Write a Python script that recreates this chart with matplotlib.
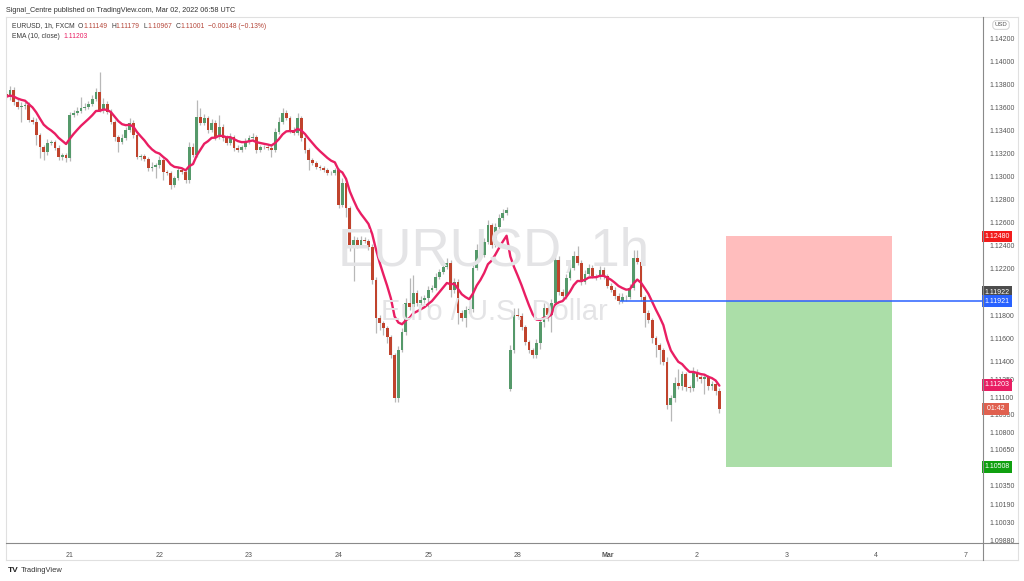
import numpy as np
import pandas as pd
import matplotlib
matplotlib.use("Agg")
import matplotlib.pyplot as plt
from matplotlib.patches import Rectangle
from matplotlib.lines import Line2D
from matplotlib.ticker import FixedLocator, NullLocator, NullFormatter, FixedFormatter
import matplotlib.transforms as mtransforms

plt.rcParams['font.family'] = ['Liberation Sans', 'DejaVu Sans']

# ---------------- data (EURUSD 1h, FXCM) ----------------
first_open = 1.13720
gap_bar = 135          # Sunday re-open bar after the weekend gap
gap_open = 1.11170

closes = [
    1.13694, 1.13755, 1.13650, 1.13606, 1.13615, 1.13624, 1.13493, 1.13475, 1.13362, 1.13257,
    1.13214, 1.13292, 1.13301, 1.13249, 1.13170, 1.13187, 1.13161, 1.13537, 1.13554, 1.13571,
    1.13598, 1.13606, 1.13633, 1.13676, 1.13737, 1.13580, 1.13633, 1.13563, 1.13475, 1.13344,
    1.13301, 1.13336, 1.13406, 1.13467, 1.13362, 1.13170, 1.13179, 1.13152, 1.13074, 1.13083,
    1.13100, 1.13144, 1.13039, 1.13030, 1.12925, 1.12987, 1.13056, 1.13039, 1.12969, 1.13257,
    1.13187, 1.13519, 1.13467, 1.13510, 1.13406, 1.13467, 1.13344, 1.13432, 1.13336, 1.13292,
    1.13344, 1.13249, 1.13231, 1.13257, 1.13301, 1.13336, 1.13344, 1.13231, 1.13257, 1.13255,
    1.13249, 1.13231, 1.13388, 1.13475, 1.13554, 1.13510, 1.13406, 1.13379, 1.13510, 1.13336,
    1.13231, 1.13144, 1.13117, 1.13083, 1.13074, 1.13056, 1.13030, 1.13028, 1.13056, 1.12753,
    1.12943, 1.12727, 1.12382, 1.12451, 1.12408, 1.12451, 1.12442, 1.12391, 1.12106, 1.11779,
    1.11735, 1.11692, 1.11615, 1.11460, 1.11089, 1.11503, 1.11658, 1.11908, 1.11873, 1.11994,
    1.11908, 1.11934, 1.11951, 1.12020, 1.12037, 1.12132, 1.12175, 1.12218, 1.12253, 1.12020,
    1.12089, 1.11822, 1.11779, 1.11848, 1.11856, 1.12210, 1.12365, 1.12322, 1.12434, 1.12580,
    1.12408, 1.12563, 1.12641, 1.12684, 1.12709, 1.11503, 1.11804, 1.11796, 1.11701, 1.11572,
    1.11503, 1.11460, 1.11563, 1.11744, 1.11865, 1.11804, 1.11908, 1.12279, 1.12003, 1.11968,
    1.12123, 1.12210, 1.12313, 1.12253, 1.12089, 1.12158, 1.12210, 1.12140, 1.12132, 1.12192,
    1.12140, 1.12054, 1.12020, 1.11968, 1.11925, 1.11959, 1.11957, 1.12037, 1.12296, 1.12261,
    1.11959, 1.11822, 1.11761, 1.11606, 1.11546, 1.11503, 1.11401, 1.11028, 1.11088, 1.11218,
    1.11192, 1.11295, 1.11184, 1.11175, 1.11313, 1.11269, 1.11252, 1.11269, 1.11192, 1.11210,
    1.11149, 1.11001,
]

# wick lengths beyond the body, in pips
upper_wick_pips = [
    2, 3, 2, 2, 3, 2, 2, 2, 3, 2,
    2, 3, 2, 2, 2, 2, 2, 2, 2, 3,
    9, 3, 2, 3, 3, 17, 5, 2, 2, 2,
    2, 3, 2, 4, 2, 2, 2, 2, 2, 4,
    2, 3, 2, 2, 2, 2, 3, 2, 2, 4,
    3, 15, 8, 3, 2, 3, 2, 10, 2, 2,
    3, 2, 2, 2, 3, 2, 3, 2, 2, 2,
    2, 2, 3, 4, 4, 2, 2, 2, 4, 2,
    2, 2, 2, 2, 2, 2, 2, 2, 2, 2,
    4, 2, 2, 3, 2, 3, 2, 2, 2, 2,
    2, 2, 2, 2, 2, 3, 3, 4, 21, 15,
    2, 3, 2, 3, 2, 3, 2, 3, 4, 2,
    3, 2, 2, 3, 2, 4, 5, 2, 3, 4,
    2, 3, 3, 3, 3, 4, 6, 6, 2, 2,
    2, 2, 3, 3, 4, 2, 3, 10, 3, 2,
    3, 3, 4, 8, 2, 3, 3, 2, 2, 3,
    2, 2, 2, 2, 2, 3, 2, 3, 7, 7,
    2, 2, 2, 2, 2, 2, 2, 4, 3, 5,
    12, 3, 2, 2, 4, 3, 2, 3, 2, 3,
    2, 3,
]
lower_wick_pips = [
    2, 3, 3, 2, 13, 3, 2, 2, 9, 10,
    7, 3, 2, 2, 3, 3, 4, 3, 2, 2,
    2, 2, 2, 2, 2, 2, 3, 2, 2, 4,
    9, 2, 2, 2, 3, 2, 3, 2, 3, 3,
    10, 3, 7, 2, 3, 2, 2, 2, 3, 3,
    2, 2, 2, 2, 3, 2, 3, 2, 3, 2,
    2, 3, 2, 2, 2, 2, 2, 3, 2, 2,
    2, 6, 2, 2, 2, 2, 3, 2, 2, 3,
    3, 9, 2, 2, 2, 2, 2, 2, 2, 3,
    2, 8, 3, 29, 3, 2, 2, 3, 4, 13,
    6, 6, 5, 3, 3, 3, 2, 3, 3, 3,
    3, 2, 3, 8, 2, 2, 2, 2, 2, 6,
    3, 10, 3, 8, 3, 3, 2, 3, 2, 2,
    3, 2, 2, 2, 2, 2, 3, 2, 3, 3,
    3, 3, 3, 5, 4, 5, 15, 2, 3, 4,
    3, 2, 2, 2, 3, 2, 2, 2, 3, 2,
    3, 2, 2, 3, 3, 2, 3, 2, 2, 2,
    4, 12, 3, 4, 10, 12, 3, 3, 13, 3,
    2, 3, 3, 3, 2, 3, 3, 13, 3, 3,
    3, 3.4,
]

day_tick_bars = [17, 41, 65, 89, 113, 137, 161, 185, 209, 233, 257]
day_labels = ['21', '22', '23', '24', '25', '28', 'Mar', '2', '3', '4', '7']

price_ticks = [1.142, 1.140, 1.138, 1.136, 1.134, 1.132, 1.130, 1.128, 1.126, 1.124,
               1.122, 1.118, 1.116, 1.114, 1.1125, 1.111, 1.1095, 1.108, 1.1065,
               1.1035, 1.1019, 1.1003, 1.0988]
price_tick_labels = ['1.14200', '1.14000', '1.13800', '1.13600', '1.13400', '1.13200',
                     '1.13000', '1.12800', '1.12600', '1.12400', '1.12200', '1.11800',
                     '1.11600', '1.11400', '1.11250', '1.11100', '1.10950', '1.10800',
                     '1.10650', '1.10350', '1.10190', '1.10030', '1.09880']

# short position tool
stop_price = 1.12480
entry_price = 1.11922
line_price = 1.11921
target_price = 1.10508
box_start_bar = 192.9
box_end_bar = 237.2
line_start_bar = 164.4
ema_last = 1.11203
countdown = '01:42'

# ---------------- derived OHLC ----------------
n = len(closes)
closes_a = np.array(closes)
opens = np.array([first_open] + closes[:-1])
opens[gap_bar] = gap_open
hi_body = np.maximum(opens, closes_a)
lo_body = np.minimum(opens, closes_a)
highs = hi_body + np.array(upper_wick_pips) / 10000.0
lows = lo_body - np.array(lower_wick_pips) / 10000.0
ema = pd.Series(closes).ewm(span=10, adjust=False).mean().values
bars = np.arange(n)

UP = '#55996a'
DOWN = '#c0432d'
WICK = '#b8b8b8'

W, H = 1024, 581
fig = plt.figure(figsize=(W / 100, H / 100), dpi=100)
fig.patch.set_facecolor('white')
ax = fig.add_axes([6 / W, 1 - 543 / H, 977 / W, 526 / H])
ax.patch.set_alpha(0)

ax.set_yscale('log')
ax.set_ylim(1.098608, 1.14393)
ax.set_xlim(-0.1, -0.1 + 977 / 3.733)

# watermark
fig.text(494 / W, 1 - 252 / H, 'EURUSD, 1h', fontsize=38, color='#e4e4e6',
         ha='center', va='center', zorder=0)
fig.text(494 / W, 1 - 312 / H, 'Euro / U.S. Dollar', fontsize=21, color='#e4e4e6',
         ha='center', va='center', zorder=0)

# position tool
ax.add_patch(Rectangle((box_start_bar, entry_price), box_end_bar - box_start_bar,
                       stop_price - entry_price, fc='#ffbdbd', ec='none', zorder=1))
ax.add_patch(Rectangle((box_start_bar, target_price), box_end_bar - box_start_bar,
                       entry_price - target_price, fc='#abdea8', ec='none', zorder=1))

# candles
ax.vlines(bars, lows, highs, color=WICK, lw=0.9, zorder=2)
colors = np.where(closes_a >= opens, UP, DOWN)
heights = np.maximum(hi_body - lo_body, 0.00003)
ax.bar(bars, heights, bottom=lo_body, width=0.74, color=colors, lw=0, zorder=3)

# EMA
ax.plot(bars, ema, color='#e91e63', lw=1.7, zorder=4, solid_capstyle='round')

# blue horizontal line
ax.hlines(line_price, line_start_bar, ax.get_xlim()[1], color='#2962ff', lw=1.1, zorder=5)

# axes styling
for s in ax.spines.values():
    s.set_visible(False)
ax.yaxis.tick_right()
ax.yaxis.set_major_locator(FixedLocator(price_ticks))
ax.yaxis.set_major_formatter(FixedFormatter(price_tick_labels))
ax.yaxis.set_minor_locator(NullLocator())
ax.yaxis.set_minor_formatter(NullFormatter())
ax.tick_params(axis='y', length=0, pad=4.5, labelsize=5, labelcolor='#555555')
ax.set_xticks(day_tick_bars)
ax.set_xticklabels(day_labels)
ax.tick_params(axis='x', length=0, pad=6.5, labelsize=5, labelcolor='#555555')
for lab in ax.get_xticklabels():
    if lab.get_text() == 'Mar':
        lab.set_fontweight('bold')

# price labels on the scale
blend = mtransforms.blended_transform_factory(ax.transAxes, ax.transData)
def price_label(price, text, fc, dy=0):
    tr = mtransforms.offset_copy(blend, fig=fig, x=0, y=dy, units='dots')
    ax.text(1.0 + 1.5 / 977, price, text, transform=tr, fontsize=5, color='white',
            ha='left', va='center', zorder=10, clip_on=False,
            bbox=dict(boxstyle='square,pad=0.35', fc=fc, ec='none'))

price_label(stop_price, '1.12480', '#f21c1c')
price_label(entry_price, '1.11922', '#4d4d4d', dy=9)
price_label(line_price, '1.11921', '#2962ff')
price_label(ema_last, '1.11203', '#e91e63')
price_label(closes[-1], ' ' + countdown + ' ', '#e0604f')
price_label(target_price, '1.10508', '#10a010')

# USD badge
fig.text(1001 / W, 1 - 25 / H, 'USD', fontsize=4.3, color='#555555', ha='center', va='center',
         bbox=dict(boxstyle='round,pad=0.3,rounding_size=0.5', fc='white', ec='#c8c8c8', lw=0.6))

# frame lines
def fline(x0, y0, x1, y1, color, lw=0.8):
    fig.add_artist(Line2D([x0 / W, x1 / W], [1 - y0 / H, 1 - y1 / H], color=color, lw=lw))

fline(6, 17, 1018, 17, '#e0e0e0')
fline(6, 17, 6, 560, '#e0e0e0')
fline(6, 560, 1018, 560, '#e0e0e0')
fline(1018, 17, 1018, 560, '#e0e0e0')
fline(983, 17, 983, 560, '#8a8a8a')
fline(6, 543, 1018, 543, '#8a8a8a')

# header texts
fig.text(6 / W, 1 - 10 / H, 'Signal_Centre published on TradingView.com, Mar 02, 2022 06:58 UTC',
         fontsize=5.2, color='#333333', ha='left', va='center')

renderer = fig.canvas.get_renderer()
def chain(pieces, x_px, y_px, size):
    x = x_px
    for txt, col, gap in pieces:
        t = fig.text(x / W, 1 - y_px / H, txt, color=col, fontsize=size, ha='left', va='center')
        bb = t.get_window_extent(renderer)
        x = bb.x1 + gap

DARK = '#3a3a3a'
VAL = '#b5473a'
chain([('EURUSD, 1h, FXCM', DARK, 3.5), ('O', DARK, 0), ('1.11149', VAL, 3.5),
       ('H', DARK, 0), ('1.11179', VAL, 3.5), ('L', DARK, 0), ('1.10967', VAL, 3.5),
       ('C', DARK, 0), ('1.11001', VAL, 3.5), ('\u22120.00148 (\u22120.13%)', VAL, 0)],
      12, 26, 4.9)
chain([('EMA (10, close)', DARK, 4), ('1.11203', '#e91e63', 0)], 12, 36, 4.9)

# footer logo
fig.text(8 / W, 1 - 570 / H, 'TV', fontsize=6, fontweight='bold', color='#222222',
         ha='left', va='center')
fig.text(21 / W, 1 - 570 / H, 'TradingView', fontsize=5.4, color='#333333',
         ha='left', va='center')

fig.savefig('out.png', dpi=100, facecolor='white')
